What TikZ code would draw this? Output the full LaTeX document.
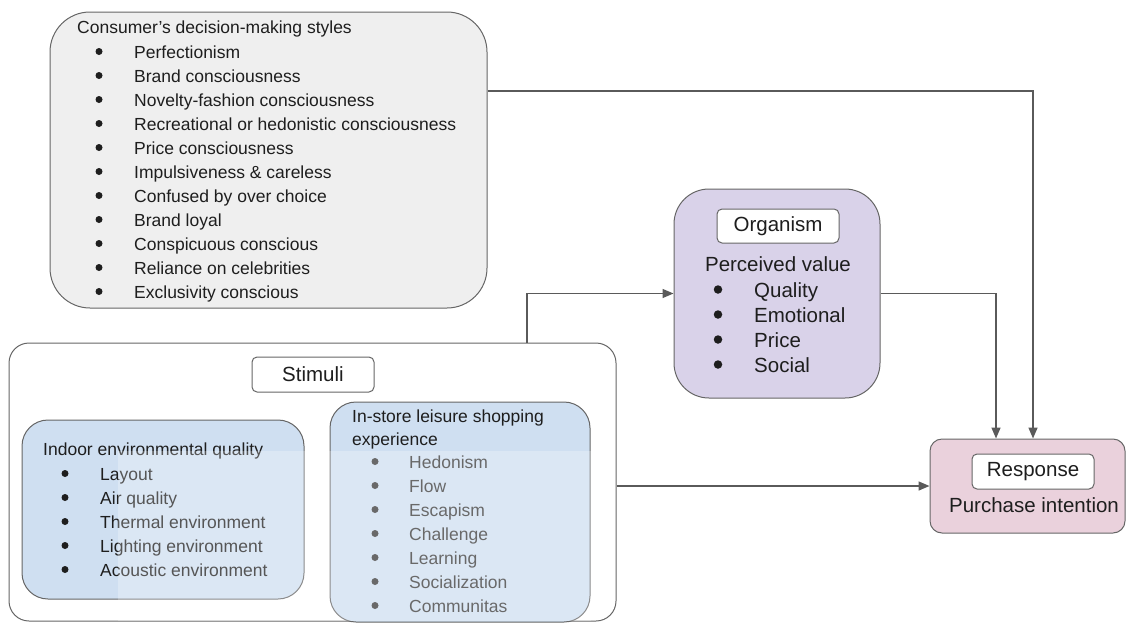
\documentclass[tikz,border=0pt]{standalone}
\usepackage{fontspec}
\setmainfont{Liberation Sans}
\usetikzlibrary{arrows.meta,calc}

\definecolor{edge}{HTML}{666666}
\definecolor{wire}{HTML}{5A5A5A}
\definecolor{greyfill}{HTML}{EFEFEF}
\definecolor{bluefill}{HTML}{CFDFF1}
\definecolor{lilac}{HTML}{D9D2E9}
\definecolor{rose}{HTML}{EAD1DC}
\definecolor{ink}{HTML}{1E1E1E}
\definecolor{softink}{HTML}{383838}

\tikzset{
  box/.style={draw=edge, line width=1pt, inner sep=0pt},
  tag/.style={draw=edge, line width=1pt, fill=white, rounded corners=5pt,
              inner sep=0pt, font=\fontsize{20.5}{24}\selectfont, text=ink},
  small/.style={inner sep=0pt, anchor=base west, text=ink,
                font=\fontsize{17.5}{24}\selectfont},
  large/.style={inner sep=0pt, text=ink, font=\fontsize{20.5}{25}\selectfont},
  dot/.style={circle, fill=ink, inner sep=0pt, minimum size=7pt},
  bigdot/.style={circle, fill=ink, inner sep=0pt, minimum size=8.5pt},
  arr/.style={draw=wire, line width=1.5pt,
              -{Triangle[length=11pt,width=9pt]}},
}

\begin{document}
\begin{tikzpicture}[x=1pt,y=-1pt]
\useasboundingbox (0,0) rectangle (1127,624);

% ---------- decision-making styles ----------
\node[box, fill=greyfill, rounded corners=40pt,
      minimum width=437pt, minimum height=296pt] (cds) at (268.5,160) {};
\node[small] (cdstitle) at (77,33) {Consumer’s decision-making styles};
\foreach \t [count=\i from 0] in {Perfectionism, Brand consciousness,
    Novelty-fashion consciousness, Recreational or hedonistic consciousness,
    Price consciousness, Impulsiveness \& careless, Confused by over choice,
    Brand loyal, Conspicuous conscious, Reliance on celebrities,
    Exclusivity conscious}{
  \node[small] (cdsitem\i) at (134,58+24*\i) {\t};
  \node[dot] (cdsdot\i) at (99,51.5+24*\i) {};
}

% ---------- stimuli ----------
\node[box, fill=white, rounded corners=20pt,
      minimum width=607pt, minimum height=278pt] (stim) at (312.5,482) {};
\node[tag, minimum width=122pt, minimum height=35pt] (stimtag) at (313,374.5) {Stimuli};

\node[box, fill=bluefill, rounded corners=26pt,
      minimum width=282pt, minimum height=179pt] (ieq) at (163,509.5) {};
\node[small] (ieqtitle) at (43,455) {Indoor environmental quality};
\foreach \t [count=\i from 0] in {Layout, Air quality, Thermal environment,
    Lighting environment, Acoustic environment}{
  \node[small] (ieqitem\i) at (100,480+24*\i) {\t};
  \node[dot] (ieqdot\i) at (65,473.5+24*\i) {};
}

\node[box, fill=bluefill, rounded corners=26pt,
      minimum width=260pt, minimum height=220pt] (isl) at (460,512) {};
\node[small] (isltitle) at (352,422) {In-store leisure shopping};
\node[small] (isltitle2) at (352,445) {experience};
\foreach \t [count=\i from 0] in {Hedonism, Flow, Escapism, Challenge,
    Learning, Socialization, Communitas}{
  \node[small, text=softink] (islitem\i) at (409,468+24*\i) {\t};
  \node[dot, fill=softink] (isldot\i) at (375,461.5+24*\i) {};
}

% pale wash over the lower part of both stimulus panels
\fill[white, opacity=0.25] (118,451) rectangle (591,621);

% ---------- organism ----------
\node[box, fill=lilac, rounded corners=35pt,
      minimum width=206pt, minimum height=209pt] (org) at (777,293.5) {};
\node[tag, minimum width=122pt, minimum height=34pt] (orgtag) at (778,226) {Organism};
\node[large, anchor=base] (orgtitle) at (778,271) {Perceived value};
\foreach \t [count=\i from 0] in {Quality, Emotional, Price, Social}{
  \node[large, anchor=base west] (orgitem\i) at (754,297+25*\i) {\t};
  \node[bigdot] (orgdot\i) at (718,289.5+25*\i) {};
}

% ---------- response ----------
\node[box, fill=rose, rounded corners=12pt,
      minimum width=195pt, minimum height=94pt] (resp) at (1027.5,486) {};
\node[tag, minimum width=122pt, minimum height=35pt] (resptag) at (1033,471.5) {Response};
\node[large, anchor=base] (resptext) at (1034,512) {Purchase intention};

% ---------- connectors ----------
\coordinate (cdsout) at ([yshift=69pt]cds.east);
\coordinate (respinA) at ([xshift=-31.5pt]resp.north);
\coordinate (respinB) at ([xshift=5.5pt]resp.north);
\coordinate (stimout) at ([xshift=214.5pt]stim.north);

\draw[arr] (cdsout) -| (respinB);
\draw[arr] (org.east) -| (respinA);
\draw[arr] (stimout) |- (org.west);
\draw[arr] (stim.east |- resp.west) -- (resp.west);
\end{tikzpicture}
\end{document}
